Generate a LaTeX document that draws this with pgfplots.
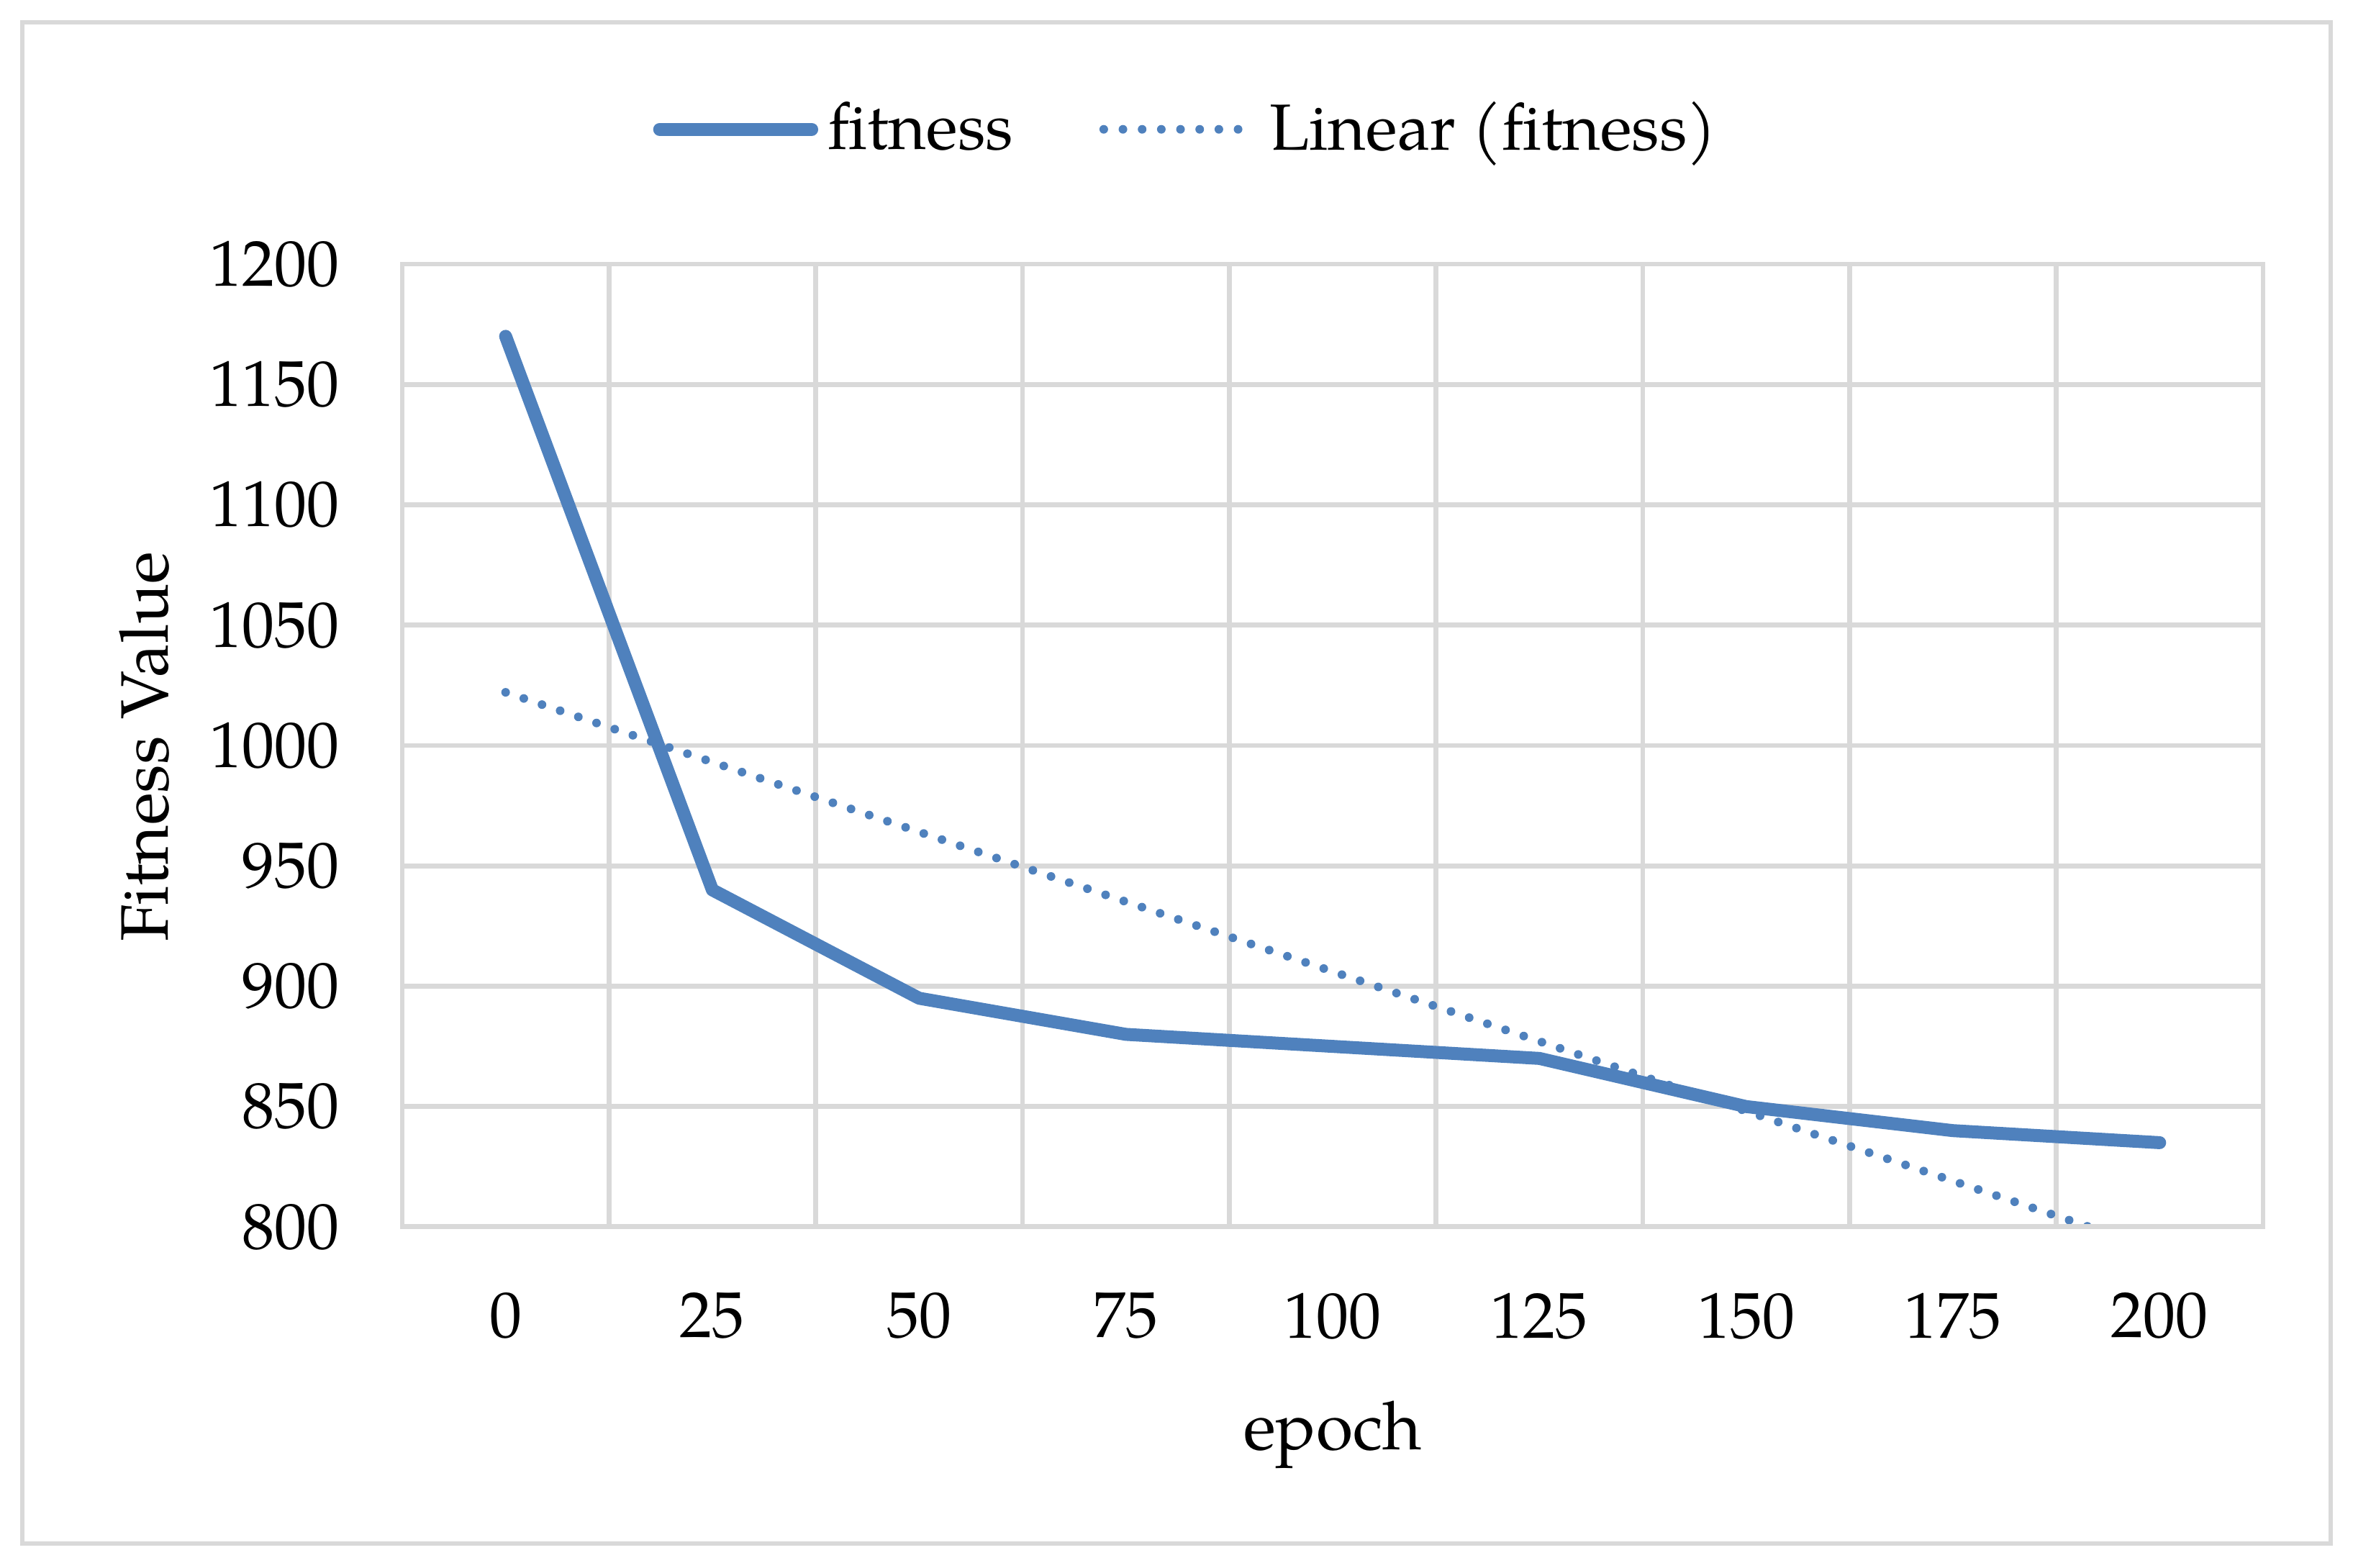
\documentclass[border=0pt]{standalone}
\usepackage{fontspec}
\setmainfont{TeX Gyre Pagella}
\usepackage{pgfplots}
\pgfplotsset{compat=1.18}
\definecolor{excelblue}{RGB}{79,129,189}
\definecolor{gridgray}{RGB}{217,217,217}

\begin{document}
\begin{tikzpicture}[font=\fontsize{13.5}{16}\selectfont]
% page size: the outer chart frame plus a small margin
\path[use as bounding box] (-83.85pt,-71.1pt) rectangle (406.65pt,255.75pt);
\draw[gridgray, line width=1pt] (-79.2pt,-66pt) rectangle (402pt,251.1pt);
\begin{axis}[
        at={(0,0)}, anchor=south west,
        scale only axis,
        width=387.9pt, height=200.7pt,
        xmin=-0.5, xmax=8.5,
        ymin=800, ymax=1200,
        xtick={0,...,8},
        xticklabels={0,25,50,75,100,125,150,175,200},
        minor xtick={0.5,1.5,...,7.5},
        ytick={800,850,...,1200},
        major tick length=0pt, minor tick length=0pt,
        ymajorgrids, xminorgrids,
        grid style={gridgray, line width=1pt},
        axis line style={gridgray, line width=1pt},
        tick label style={font=\fontsize{13.5}{16}\selectfont},
        /pgf/number format/assume math mode=true,
        /pgf/number format/1000 sep={},
        yticklabel style={xshift=-9.6pt},
        xticklabel style={yshift=-10.2pt},
        xlabel={epoch},
        xlabel style={at={(axis description cs:0.5,-0.216)}, anchor=center,
                font=\fontsize{14}{17}\selectfont},
        ylabel={Fitness Value},
        ylabel style={at={(axis description cs:-0.1388,0.499)}, anchor=center,
                font=\fontsize{14}{17}\selectfont},
        legend image code/.code={\draw[#1] (0pt,0pt) -- (31.7pt,0pt);},
        legend style={
                at={(rel axis cs:0.4233,1.14)}, anchor=center,
                draw=none, fill=none,
                font=\fontsize{13.6}{16}\selectfont,
                nodes={inner xsep=2pt},
                /tikz/every even column/.append style={column sep=16pt}
            },
        legend columns=2
    ]

    \addplot [color=excelblue, line width=2.7pt, line cap=round, line join=round] coordinates {
            (0, 1170)
            (1, 940)
            (2, 895)
            (3, 880)
            (4, 875)
            (5, 870)
            (6, 850)
            (7, 840)
            (8, 835)
        };
    \addlegendentry{fitness}

    \addplot [color=excelblue, line width=1.8pt, line cap=round, dash pattern=on 0pt off 4pt] coordinates {
            (0, 1022.1)
            (8, 790.1)
        };
    \addlegendentry{Linear (fitness)}

    \draw[gridgray, line width=1.35pt] (rel axis cs:0,0) -- (rel axis cs:1,0);
\end{axis}
\end{tikzpicture}
\end{document}
